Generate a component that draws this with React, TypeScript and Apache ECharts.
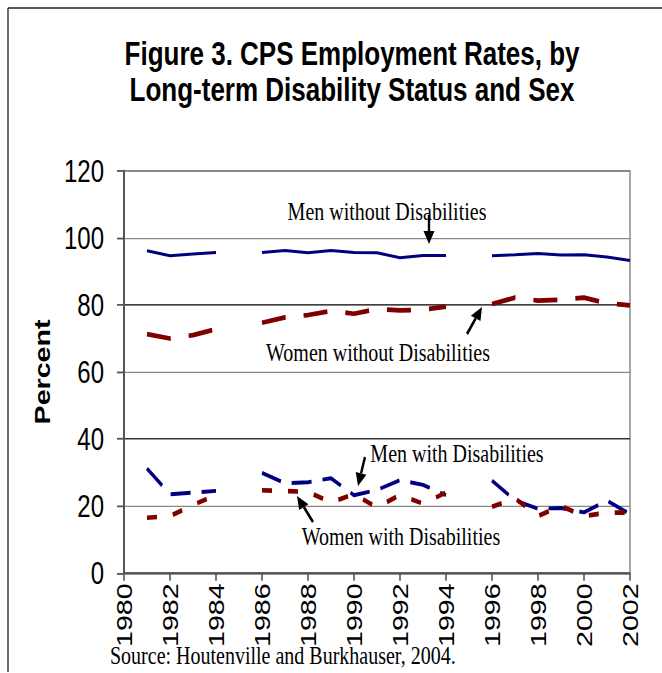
import React, { useEffect, useRef } from 'react';
import * as echarts from 'echarts';

// ---- data ----
const years = [1981, 1982, 1983, 1984, 1985, 1986, 1987, 1988, 1989, 1990, 1991, 1992, 1993, 1994, 1995, 1996, 1997, 1998, 1999, 2000, 2001, 2002];
const menWithout = [96.2, 94.7, 95.2, 95.7, null, 95.7, 96.3, 95.6, 96.3, 95.7, 95.6, 94.1, 94.8, 94.8, null, 94.7, 95.0, 95.4, 94.9, 95.0, 94.3, 93.3];
const womenWithout = [71.3, 70.0, 71.0, 72.8, null, 74.7, 76.3, 77.0, 78.2, 77.4, 78.8, 78.4, 78.6, 79.5, null, 80.3, 82.2, 81.3, 81.6, 82.2, 80.5, 79.9];
const menWith = [31.2, 23.5, 24.0, 24.5, null, 29.9, 26.8, 27.1, 28.3, 23.2, 24.8, 27.7, 26.3, 23.2, null, 27.6, 21.7, 19.2, 19.4, 18.1, 21.6, 17.6];
const womenWith = [16.5, 17.0, 20.3, 23.3, null, 24.7, 24.5, 24.2, 21.1, 23.5, 19.6, 23.3, 20.7, 24.0, null, 19.8, 22.3, 17.0, 20.0, 17.0, 18.0, 18.0];

const titleLines = ['Figure 3. CPS Employment Rates, by', 'Long-term Disability Status and Sex'];
const yAxisName = 'Percent';
const sourceText = 'Source: Houtenville and Burkhauser, 2004.';
const labels = {
  menWithout: 'Men without Disabilities',
  womenWithout: 'Women without Disabilities',
  menWith: 'Men with Disabilities',
  womenWith: 'Women with Disabilities',
};

// vertical stretch of the original figure
const S = 1.3;
const W = 662;
const H = 673;
const HU = Math.floor(H / S);

const pair = (vals: (number | null)[]) => years.map((y, i) => [y, vals[i] === null ? null : vals[i]]);

function arrow(x1: number, y1: number, x2: number, y2: number) {
  const dx = x2 - x1;
  const dy = y2 - y1;
  const len = Math.hypot(dx, dy);
  const ux = dx / len;
  const uy = dy / len;
  const L = 13;
  const hw = 5.5;
  const bx = x2 - ux * L;
  const by = y2 - uy * L;
  const nx = -uy;
  const ny = ux;
  return [
    { type: 'line', shape: { x1, y1: y1 / S, x2: bx, y2: by / S }, style: { stroke: '#000', lineWidth: 2.4 }, z: 100 },
    {
      type: 'polygon',
      shape: { points: [[x2, y2 / S], [bx + nx * hw, (by + ny * hw) / S], [bx - nx * hw, (by - ny * hw) / S]] },
      style: { fill: '#000' },
      z: 100,
    },
  ];
}

function note(text: string, cx: number, cy: number) {
  return {
    type: 'text',
    x: cx,
    y: cy / S,
    z: 100,
    style: {
      text,
      fill: '#000',
      font: '20px "Liberation Serif", "Times New Roman", serif',
      textAlign: 'center',
      textVerticalAlign: 'middle',
    },
  };
}

export default function App() {
  const ref = useRef<HTMLDivElement>(null);
  useEffect(() => {
    if (!ref.current) return;
    const chart = echarts.init(ref.current, undefined, { renderer: 'svg' });
    const sans = '"Liberation Sans", Arial, sans-serif';
    chart.setOption({
      animation: false,
      backgroundColor: '#fff',
      textStyle: { fontFamily: sans },
      title: {
        text: titleLines.join('\n'),
        left: 347,
        top: 22,
        textAlign: 'center',
        textStyle: { fontFamily: sans, fontWeight: 'bold', fontSize: 26, lineHeight: 28, color: '#000' },
      },
      grid: {
        left: 124,
        top: 171 / S,
        width: 506,
        height: (573 - 171) / S,
        show: true,
        borderColor: '#8a8a8a',
        borderWidth: 1.5,
        backgroundColor: 'transparent',
      },
      xAxis: {
        type: 'value',
        min: 1980,
        max: 2002,
        interval: 2,
        axisLine: { show: true, lineStyle: { color: '#555', width: 1.6 } },
        axisTick: { show: true, inside: false, length: 6, lineStyle: { color: '#555', width: 1.6 } },
        splitLine: { show: false },
        axisLabel: {
          rotate: 90,
          margin: 8,
          fontSize: 22,
          color: '#000',
          fontFamily: sans,
          formatter: (v: number) => String(v),
        },
      },
      yAxis: {
        type: 'value',
        min: 0,
        max: 120,
        interval: 20,
        name: yAxisName,
        nameLocation: 'middle',
        nameRotate: 90,
        nameGap: 71,
        nameTextStyle: { fontFamily: sans, fontWeight: 'bold', fontSize: 22, color: '#000' },
        axisLine: { show: true, lineStyle: { color: '#555', width: 2 } },
        axisTick: { show: true, inside: false, length: 7, lineStyle: { color: '#555', width: 1.4 } },
        axisLabel: { margin: 20, fontSize: 24, color: '#000', fontFamily: sans },
        splitLine: {
          show: true,
          lineStyle: { color: ['#555', '#888', '#333', '#888', '#000', '#888', '#888'], width: 1 },
        },
      },
      series: [
        {
          name: labels.menWithout,
          type: 'line',
          data: pair(menWithout),
          symbol: 'none',
          connectNulls: false,
          lineStyle: { color: '#000080', width: 2.3, type: 'solid' },
          z: 3,
        },
        {
          name: labels.womenWithout,
          type: 'line',
          data: pair(womenWithout),
          symbol: 'none',
          connectNulls: false,
          lineStyle: { color: '#800000', width: 3.6, type: [24, 18] },
          z: 3,
        },
        {
          name: labels.menWith,
          type: 'line',
          data: pair(menWith),
          symbol: 'none',
          connectNulls: false,
          lineStyle: { color: '#000080', width: 3, type: [20, 11] },
          z: 3,
        },
        {
          name: labels.womenWith,
          type: 'line',
          data: pair(womenWith),
          symbol: 'none',
          connectNulls: false,
          lineStyle: { color: '#800000', width: 3.6, type: [10, 16] },
          z: 4,
        },
      ],
      graphic: [
        { type: 'line', shape: { x1: 8, y1: 8 / S, x2: W, y2: 8 / S }, style: { stroke: '#222', lineWidth: 1.3 } },
        { type: 'line', shape: { x1: 8, y1: 8 / S, x2: 8, y2: HU }, style: { stroke: '#222', lineWidth: 1.3 } },
        note(labels.menWithout, 387, 211),
        note(labels.womenWithout, 378, 352),
        note(labels.menWith, 457, 453),
        note(labels.womenWith, 401, 536),
        ...arrow(429, 215, 429, 244),
        ...arrow(467, 334, 482, 307),
        ...arrow(365, 457, 358, 486),
        ...arrow(313, 522, 297, 496),
        {
          type: 'text',
          x: 110,
          y: 655 / S,
          style: {
            text: sourceText,
            fill: '#000',
            font: '20px "Liberation Serif", "Times New Roman", serif',
            textAlign: 'left',
            textVerticalAlign: 'middle',
          },
        },
      ],
    });
    return () => chart.dispose();
  }, []);
  return (
    <div
      ref={ref}
      style={{
        position: 'absolute',
        left: 0,
        top: 0,
        width: W,
        height: HU,
        transform: `scaleY(${S})`,
        transformOrigin: 'top left',
        background: '#fff',
      }}
    />
  );
}
